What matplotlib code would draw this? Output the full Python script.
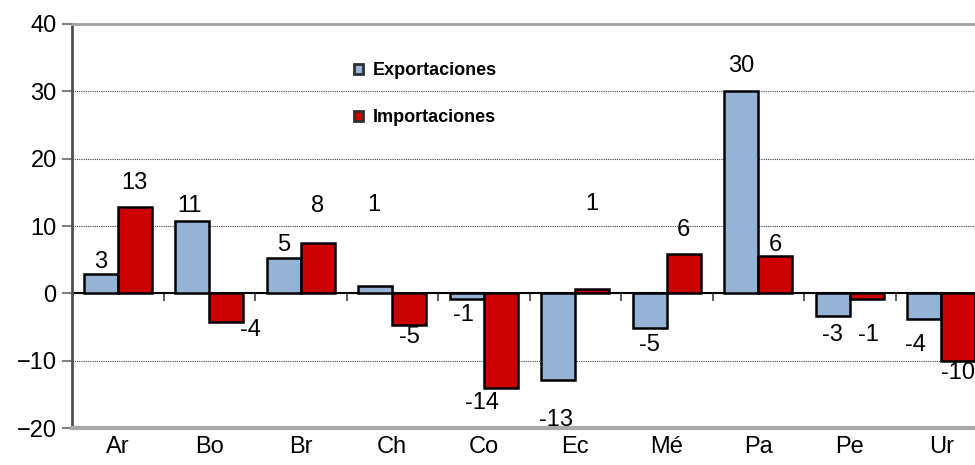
import numpy as np
import matplotlib
matplotlib.use("Agg")
from matplotlib import pyplot as plt

plt.rcParams['font.family'] = ['Liberation Sans', 'DejaVu Sans']

paises = ['Ar', 'Bo', 'Br', 'Ch', 'Co', 'Ec', 'Mé', 'Pa', 'Pe', 'Ur']
exportaciones = [2.9, 10.7, 5.3, 1.1, -0.9, -12.8, -5.1, 30.0, -3.3, -3.8]
importaciones = [12.8, -4.3, 7.5, -4.7, -14.1, 0.7, 5.8, 5.5, -0.8, -10.0]
etiquetas_exp = ['3', '11', '5', '1', '-1', '-13', '-5', '30', '-3', '-4']
etiquetas_imp = ['13', '-4', '8', '-5', '-14', '1', '6', '6', '-1', '-10']

# desplazamiento de las etiquetas (como en el grafico de Excel)
dy_exp = [1.8, 2.3, 1.9, 12.0, -2.3, -6.0, -2.6, 3.8, -2.9, -3.9]
dy_imp = [3.6, -1.1, 5.5, -1.8, -2.2, 12.6, 3.6, 1.7, -5.4, -1.8]
dx_exp = [0, -0.03, 0, -0.02, -0.04, -0.02, 0, 0, 0, -0.1]
dx_imp = [0, 0.26, 0, 0, -0.2, 0, 0, 0, 0.02, 0]

color_exp = '#95B3D7'
color_imp = '#CC0000'

fig = plt.figure(figsize=(9.75, 4.65), dpi=100)
ax = fig.add_axes([72 / 975, 37 / 465, 915 / 975, 404 / 465])

x = np.arange(len(paises))
w = 0.37
ax.bar(x - w / 2, exportaciones, w, color=color_exp, edgecolor='black', linewidth=1.8,
       label='Exportaciones', zorder=3)
ax.bar(x + w / 2, importaciones, w, color=color_imp, edgecolor='black', linewidth=1.8,
       label='Importaciones', zorder=3)

for i in range(len(paises)):
    ax.text(x[i] - w / 2 + dx_exp[i], exportaciones[i] + dy_exp[i], etiquetas_exp[i],
            ha='center', va='center', fontsize=17)
    ax.text(x[i] + w / 2 + dx_imp[i], importaciones[i] + dy_imp[i], etiquetas_imp[i],
            ha='center', va='center', fontsize=17)

ax.set_xlim(-0.5, len(paises) - 0.5)
ax.set_ylim(-20, 40)
ax.set_yticks(range(-20, 41, 10))
ax.set_xticks(x)
ax.set_xticklabels(paises)
ax.tick_params(axis='y', labelsize=17, length=7, width=1.5, color='#808080', pad=4)
ax.tick_params(axis='x', labelsize=17, length=0, pad=6)

for yv in [-10, 10, 20, 30]:
    ax.axhline(yv, color='#404040', linestyle=(0, (1, 1)), linewidth=0.8, zorder=1)

ax.spines['left'].set_color('#505050')
ax.spines['left'].set_linewidth(2)
ax.spines['top'].set_color('#A0A0A0')
ax.spines['top'].set_linewidth(2)
ax.spines['bottom'].set_color('#A8A8A8')
ax.spines['bottom'].set_linewidth(3)
ax.spines['right'].set_visible(False)

# eje en cero con marcas entre paises
eje0 = ax.secondary_xaxis(20 / 60)
eje0.set_xticks(x[:-1] + 0.5)
eje0.set_xticklabels([])
eje0.tick_params(length=6, width=1.2, color='#404040', direction='out')
eje0.spines['bottom'].set_color('black')
eje0.spines['bottom'].set_linewidth(1.5)
eje0.spines['bottom'].set_zorder(4)

leg = ax.legend(loc='upper left', bbox_to_anchor=(0.308, 0.905), frameon=False,
                borderpad=0, borderaxespad=0,
                prop={'weight': 'bold', 'size': 13}, handlelength=0.5, handleheight=0.5,
                handletextpad=0.55, labelspacing=1.65)
for h in leg.legend_handles:
    h.set_edgecolor('#303030')
    h.set_linewidth(2)

plt.savefig("out.png", dpi=100)
